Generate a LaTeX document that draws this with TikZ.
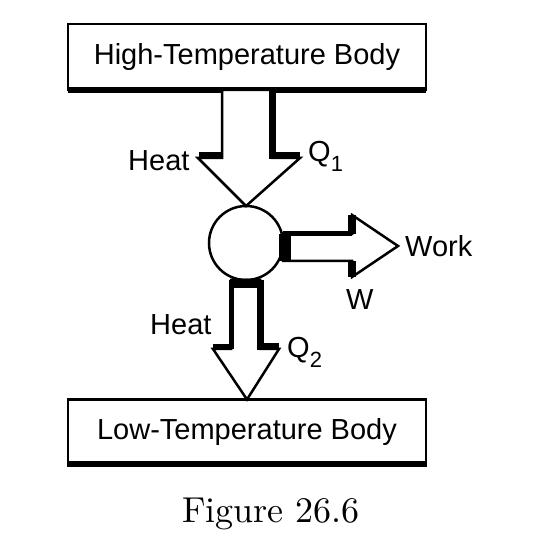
\documentclass[tikz,border=0pt]{standalone}
\usepackage{fontspec}
\setsansfont{Liberation Sans}
\newfontfamily\capfont{lmroman10-regular}[Extension=.otf]
\usepackage{tikz}
\usetikzlibrary{positioning,calc}
\tikzstyle{bodybox} = [rectangle, draw=black, line width=2.5pt, minimum width=358pt, minimum height=66pt, inner sep=0pt, outer sep=0pt, font=\sffamily\fontsize{29}{34}\selectfont]
\tikzstyle{engine} = [circle, draw=black, line width=2.5pt, minimum size=74pt, inner sep=0pt, outer sep=0pt]
\tikzstyle{tag} = [inner sep=0pt, anchor=base west, font=\sffamily\fontsize{29}{34}\selectfont]
\tikzstyle{outline} = [line width=2.5pt, fill=white, draw=black, line join=miter]
\tikzstyle{rim} = [line width=7pt, draw=black]
\newcommand{\subtag}[1]{\raisebox{-10pt}{\fontsize{22}{22}\selectfont #1}}

\begin{document}
\begin{tikzpicture}[x=1pt, y=-1pt]
    \useasboundingbox (0,0) rectangle (555,553);
    % Nodes
    \node[bodybox] (hot) at (247,57) {High-Temperature Body};
    \node[engine] (cycle) at (246,243) {};
    \node[bodybox] (cold) at (247,432.5) {Low-Temperature Body};
    \node[tag] (heatin) at (128,171) {Heat};
    \node[tag] (qin) at (308,162) {Q\subtag{1}};
    \node[tag] (work) at (405,257) {Work};
    \node[tag] (wout) at (346,310) {W};
    \node[tag] (heatout) at (150,335) {Heat};
    \node[tag] (qout) at (287,358) {Q\subtag{2}};
    \node[inner sep=0pt, anchor=base, font=\capfont\fontsize{36}{40}\selectfont] (caption) at (271,523) {Figure 26.6};

    % Box rims
    \draw[rim, line width=6pt] (hot.south west) -- (hot.south east);
    \draw[rim, line width=6pt] ($(cold.south west)+(0,-1)$) -- ($(cold.south east)+(0,-1)$);

    % Arrows
    % heat in
    \draw[outline] ($(hot.south)+(-25,0)$) -- ++(0,68) -- ++(-24,0) -- (cycle.north)
        -- ($(hot.south)+(53,68)$) -- ++(-28,0) -- ++(0,-68) -- cycle;
    \draw[rim] ($(hot.south)+(25,0)$) -- ++(0,66) -- ++(28,0);
    \draw[rim] ($(hot.south)+(-25,66)$) -- ++(-23,0);

    % work out
    \draw[outline] ($(cycle.east)+(0,-9)$) -- ++(69,0) -- ++(0,-19) -- ($(cycle.east)+(115,3)$)
        -- ($(cycle.east)+(69,34)$) -- ++(0,-16) -- ($(cycle.east)+(0,18)$) -- cycle;
    \draw[rim, line width=5pt] ($(cycle.east)+(0,-9)$) -- ++(69,0);
    \draw[rim, line width=12pt] ($(cycle.east)+(2,-9)$) -- ++(0,27);
    \draw[rim, line width=8pt] ($(cycle.east)+(69,-28)$) -- ++(0,19);
    \draw[rim, line width=8pt] ($(cycle.east)+(69,18)$) -- ++(0,16);

    % heat out
    \draw[outline] ($(cycle.south)+(-15,0)$) -- ++(0,69) -- ++(-18,0) -- (cold.north)
        -- ($(cycle.south)+(33,69)$) -- ++(-19,0) -- ++(0,-69) -- cycle;
    \draw[rim] ($(cycle.south)+(14,0)$) -- ++(0,67) -- ++(19,0);
    \draw[rim, line width=5pt] ($(cycle.south)+(-15,0)$) -- ++(0,67) -- ++(-18,0);
    \draw[rim, line width=8pt] ($(cycle.south)+(-15,4)$) -- ++(29,0);
\end{tikzpicture}
\end{document}
